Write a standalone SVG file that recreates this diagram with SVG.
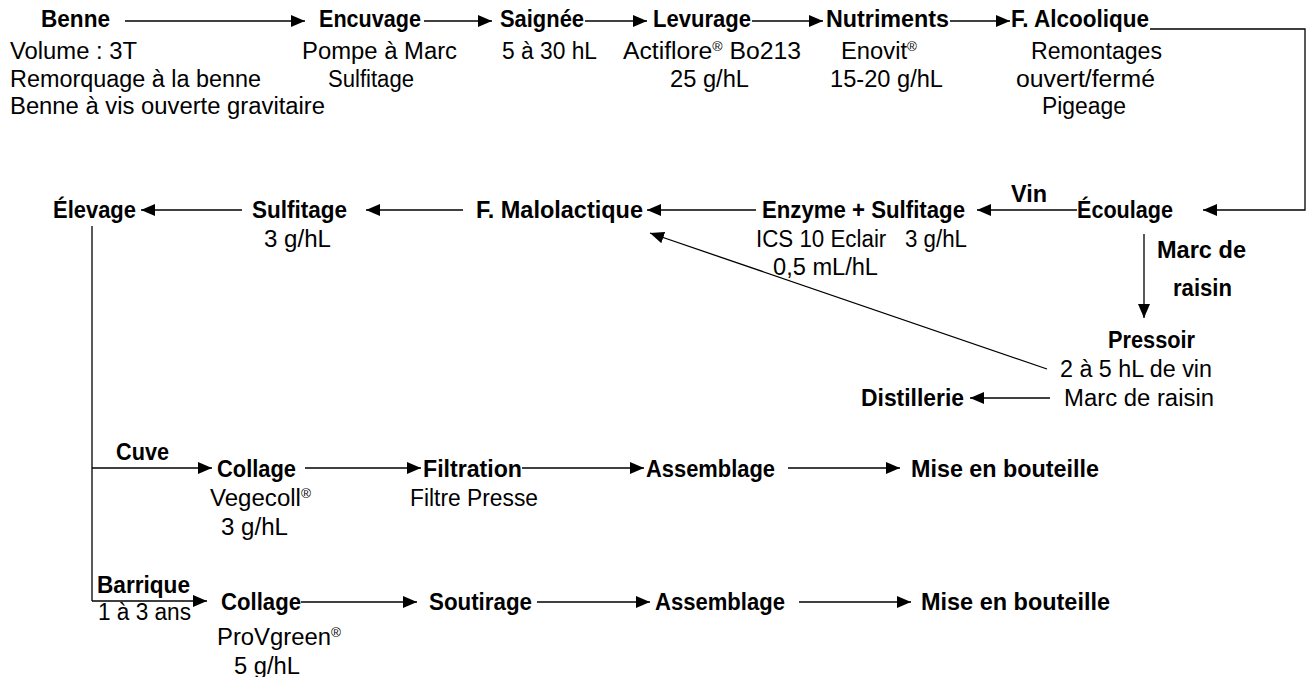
<svg xmlns="http://www.w3.org/2000/svg" width="1314" height="677" viewBox="0 0 1314 677">
<style>
text{font-family:"Liberation Sans",Arial,sans-serif;font-size:23px;fill:#000}
.b{font-weight:bold}
.r{font-size:13px}
.c line,.c polyline{stroke:#000;stroke-width:1.3;fill:none}
</style>
<defs>
<marker id="ah" markerUnits="userSpaceOnUse" markerWidth="15" markerHeight="12" refX="14" refY="6" orient="auto">
<path d="M0,0 L14,6 L0,12 Z" fill="#000"/>
</marker>
</defs>
<rect width="1314" height="677" fill="#fff"/>
<g class="c" id="connectors">
<line x1="125" y1="21" x2="305" y2="21" marker-end="url(#ah)"/>
<line x1="424" y1="21" x2="492" y2="21" marker-end="url(#ah)"/>
<line x1="585" y1="21" x2="647" y2="21" marker-end="url(#ah)"/>
<line x1="752" y1="21" x2="823" y2="21" marker-end="url(#ah)"/>
<line x1="950" y1="21" x2="1010" y2="21" marker-end="url(#ah)"/>
<polyline points="1150,29 1305,29 1305,210 1203,210" marker-end="url(#ah)"/>
<line x1="1077" y1="210" x2="977" y2="210" marker-end="url(#ah)"/>
<line x1="756" y1="210" x2="647" y2="210" marker-end="url(#ah)"/>
<line x1="463" y1="210" x2="366" y2="210" marker-end="url(#ah)"/>
<line x1="242" y1="210" x2="141" y2="210" marker-end="url(#ah)"/>
<line x1="1144" y1="234" x2="1144" y2="318" marker-end="url(#ah)"/>
<line x1="1047" y1="369" x2="650" y2="233" marker-end="url(#ah)"/>
<line x1="1050" y1="398" x2="970" y2="398" marker-end="url(#ah)"/>
<line x1="92" y1="226" x2="92" y2="601"/>
<line x1="92" y1="468" x2="212" y2="468" marker-end="url(#ah)"/>
<line x1="305" y1="468" x2="421" y2="468" marker-end="url(#ah)"/>
<line x1="522" y1="468" x2="644" y2="468" marker-end="url(#ah)"/>
<line x1="788" y1="468" x2="900" y2="468" marker-end="url(#ah)"/>
<line x1="92" y1="601" x2="207" y2="601" marker-end="url(#ah)"/>
<line x1="301" y1="602" x2="417" y2="602" marker-end="url(#ah)"/>
<line x1="537" y1="602" x2="650" y2="602" marker-end="url(#ah)"/>
<line x1="799" y1="602" x2="911" y2="602" marker-end="url(#ah)"/>
</g>
<g id="benne">
<text class="b" x="41" y="27" textLength="69" lengthAdjust="spacingAndGlyphs">Benne</text>
<text x="10" y="59" textLength="127" lengthAdjust="spacingAndGlyphs">Volume : 3T</text>
<text x="10" y="87" textLength="251" lengthAdjust="spacingAndGlyphs">Remorquage à la benne</text>
<text x="10" y="114" textLength="315" lengthAdjust="spacingAndGlyphs">Benne à vis ouverte gravitaire</text>
</g>
<g id="encuvage">
<text class="b" x="319" y="27" textLength="102" lengthAdjust="spacingAndGlyphs">Encuvage</text>
<text x="302" y="59" textLength="155" lengthAdjust="spacingAndGlyphs">Pompe à Marc</text>
<text x="328" y="87" textLength="86" lengthAdjust="spacingAndGlyphs">Sulfitage</text>
</g>
<g id="saignee">
<text class="b" x="500" y="27" textLength="84" lengthAdjust="spacingAndGlyphs">Saignée</text>
<text x="502" y="59" textLength="95" lengthAdjust="spacingAndGlyphs">5 à 30 hL</text>
</g>
<g id="levurage">
<text class="b" x="653" y="27" textLength="98" lengthAdjust="spacingAndGlyphs">Levurage</text>
<text x="623" y="59" textLength="178" lengthAdjust="spacingAndGlyphs">Actiflore<tspan class="r" dy="-8">®</tspan><tspan dy="8"> Bo213</tspan></text>
<text x="670" y="87" textLength="79" lengthAdjust="spacingAndGlyphs">25 g/hL</text>
</g>
<g id="nutriments">
<text class="b" x="826" y="27" textLength="123" lengthAdjust="spacingAndGlyphs">Nutriments</text>
<text x="841" y="59" textLength="76" lengthAdjust="spacingAndGlyphs">Enovit<tspan class="r" dy="-8">®</tspan></text>
<text x="830" y="87" textLength="113" lengthAdjust="spacingAndGlyphs">15-20 g/hL</text>
</g>
<g id="alcoolique">
<text class="b" x="1011" y="27" textLength="138" lengthAdjust="spacingAndGlyphs">F. Alcoolique</text>
<text x="1031" y="59" textLength="131" lengthAdjust="spacingAndGlyphs">Remontages</text>
<text x="1016" y="87" textLength="139" lengthAdjust="spacingAndGlyphs">ouvert/fermé</text>
<text x="1042" y="114" textLength="84" lengthAdjust="spacingAndGlyphs">Pigeage</text>
</g>
<g id="ecoulage">
<text class="b" x="1077" y="218" textLength="96" lengthAdjust="spacingAndGlyphs">Écoulage</text>
<text class="b" x="1011" y="202" textLength="36" lengthAdjust="spacingAndGlyphs">Vin</text>
<text class="b" x="1157" y="258" textLength="89" lengthAdjust="spacingAndGlyphs">Marc de</text>
<text class="b" x="1173" y="296" textLength="59" lengthAdjust="spacingAndGlyphs">raisin</text>
</g>
<g id="enzyme">
<text class="b" x="762" y="218" textLength="203" lengthAdjust="spacingAndGlyphs">Enzyme + Sulfitage</text>
<text x="756" y="247" textLength="211" lengthAdjust="spacingAndGlyphs" xml:space="preserve">ICS 10 Eclair   3 g/hL</text>
<text x="773" y="275" textLength="105" lengthAdjust="spacingAndGlyphs">0,5 mL/hL</text>
</g>
<g id="malolactique">
<text class="b" x="476" y="218" textLength="167" lengthAdjust="spacingAndGlyphs">F. Malolactique</text>
</g>
<g id="sulfitage2">
<text class="b" x="252" y="218" textLength="95" lengthAdjust="spacingAndGlyphs">Sulfitage</text>
<text x="264" y="247" textLength="67" lengthAdjust="spacingAndGlyphs">3 g/hL</text>
</g>
<g id="elevage">
<text class="b" x="53" y="218" textLength="83" lengthAdjust="spacingAndGlyphs">Élevage</text>
</g>
<g id="pressoir">
<text class="b" x="1108" y="348" textLength="87" lengthAdjust="spacingAndGlyphs">Pressoir</text>
<text x="1060" y="377" textLength="152" lengthAdjust="spacingAndGlyphs">2 à 5 hL de vin</text>
<text x="1064" y="406" textLength="150" lengthAdjust="spacingAndGlyphs">Marc de raisin</text>
</g>
<g id="distillerie">
<text class="b" x="861" y="406" textLength="103" lengthAdjust="spacingAndGlyphs">Distillerie</text>
</g>
<g id="cuve">
<text class="b" x="116" y="460" textLength="53" lengthAdjust="spacingAndGlyphs">Cuve</text>
</g>
<g id="collage1">
<text class="b" x="217" y="477" textLength="79" lengthAdjust="spacingAndGlyphs">Collage</text>
<text x="210" y="506" textLength="101" lengthAdjust="spacingAndGlyphs">Vegecoll<tspan class="r" dy="-8">®</tspan></text>
<text x="221" y="535" textLength="67" lengthAdjust="spacingAndGlyphs">3 g/hL</text>
</g>
<g id="filtration">
<text class="b" x="423" y="477" textLength="99" lengthAdjust="spacingAndGlyphs">Filtration</text>
<text x="410" y="506" textLength="128" lengthAdjust="spacingAndGlyphs">Filtre Presse</text>
</g>
<g id="assemblage1">
<text class="b" x="646" y="477" textLength="129" lengthAdjust="spacingAndGlyphs">Assemblage</text>
</g>
<g id="mise1">
<text class="b" x="911" y="477" textLength="188" lengthAdjust="spacingAndGlyphs">Mise en bouteille</text>
</g>
<g id="barrique">
<text class="b" x="97" y="593" textLength="93" lengthAdjust="spacingAndGlyphs">Barrique</text>
<text x="98" y="620" textLength="93" lengthAdjust="spacingAndGlyphs">1 à 3 ans</text>
</g>
<g id="collage2">
<text class="b" x="221" y="610" textLength="80" lengthAdjust="spacingAndGlyphs">Collage</text>
<text x="217" y="645" textLength="124" lengthAdjust="spacingAndGlyphs">ProVgreen<tspan class="r" dy="-8">®</tspan></text>
<text x="234" y="674" textLength="66" lengthAdjust="spacingAndGlyphs">5 g/hL</text>
</g>
<g id="soutirage">
<text class="b" x="429" y="610" textLength="103" lengthAdjust="spacingAndGlyphs">Soutirage</text>
</g>
<g id="assemblage2">
<text class="b" x="655" y="610" textLength="130" lengthAdjust="spacingAndGlyphs">Assemblage</text>
</g>
<g id="mise2">
<text class="b" x="921" y="610" textLength="189" lengthAdjust="spacingAndGlyphs">Mise en bouteille</text>
</g>
</svg>
